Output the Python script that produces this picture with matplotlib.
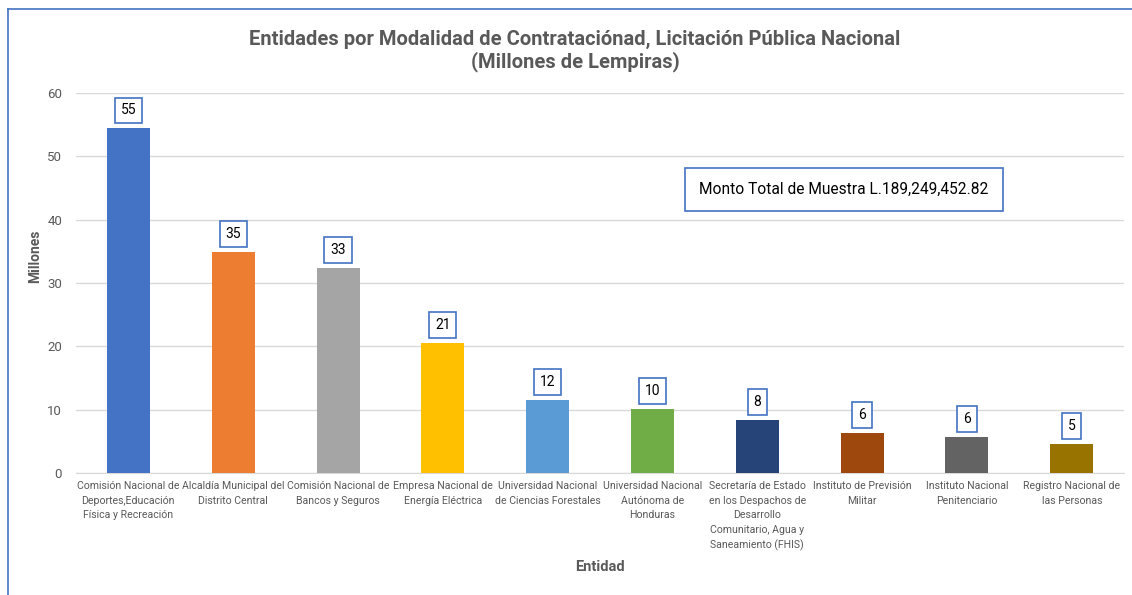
import matplotlib.pyplot as plt
from matplotlib.lines import Line2D
import numpy as np

entidades = [
    "Comisión Nacional de\nDeportes,Educación\nFísica y Recreación",
    "Alcaldía Municipal del\nDistrito Central",
    "Comisión Nacional de\nBancos y Seguros",
    "Empresa Nacional de\nEnergía Eléctrica",
    "Universidad Nacional\nde Ciencias Forestales",
    "Universidad Nacional\nAutónoma de\nHonduras",
    "Secretaría de Estado\nen los Despachos de\nDesarrollo\nComunitario, Agua y\nSaneamiento (FHIS)",
    "Instituto de Previsión\nMilitar",
    "Instituto Nacional\nPenitenciario",
    "Registro Nacional de\nlas Personas",
]
millones = [54.4, 34.9, 32.4, 20.5, 11.5, 10.1, 8.4, 6.3, 5.7, 4.6]
etiquetas = ["55", "35", "33", "21", "12", "10", "8", "6", "6", "5"]
colores = ["#4472C4", "#ED7D31", "#A5A5A5", "#FFC000", "#5B9BD5",
           "#70AD47", "#264478", "#9E480E", "#636363", "#997300"]

gris = "#595959"
azul = "#4472C4"
fuente = ["Roboto", "DejaVu Sans"]

fig = plt.figure(figsize=(11.32, 5.95), dpi=100)
ax = fig.add_axes([0.0671, 0.205, 0.926, 0.6387])

x = np.arange(len(entidades))
barras = ax.bar(x, millones, width=0.41, color=colores, zorder=3)

for b, t in zip(barras, etiquetas):
    ax.annotate(t, (b.get_x() + b.get_width() / 2, b.get_height()),
                xytext=(0, 8), textcoords="offset points",
                ha="center", va="bottom", fontsize=10, color="black", family=fuente,
                bbox=dict(boxstyle="square,pad=0.42", fc="white", ec=azul, lw=1.2))

ax.set_xlim(-0.5, len(entidades) - 0.5)
ax.set_ylim(0, 60)
ax.set_yticks(range(0, 61, 10))
ax.grid(axis="y", color="#D9D9D9", lw=1, zorder=0)
for s in ["top", "right", "left"]:
    ax.spines[s].set_visible(False)
ax.spines["bottom"].set_color("#D9D9D9")
ax.tick_params(length=0, colors=gris, labelsize=9.5)
ax.tick_params(axis="y", pad=10)
ax.tick_params(axis="x", pad=6)
ax.set_xticks(x)
ax.set_xticklabels(entidades, fontsize=7.6, color=gris, family=fuente, linespacing=1.55)
for lbl in ax.get_yticklabels():
    lbl.set_family(fuente)

ax.set_ylabel("Millones", fontsize=10, fontweight="bold", color=gris, family=fuente)
ax.yaxis.set_label_coords(-0.032, 0.57)
ax.set_xlabel("Entidad", fontsize=10.5, fontweight="bold", color=gris, family=fuente)
ax.xaxis.set_label_coords(0.5, -0.23)

fig.text(0.508, 0.915, "Entidades por Modalidad de Contrataciónad, Licitación Pública Nacional\n(Millones de Lempiras)",
         ha="center", va="center", fontsize=14.5, fontweight="bold", color=gris,
         family=fuente, linespacing=1.15)

fig.text(844 / 1132, 1 - 189 / 595, "Monto Total de Muestra L.189,249,452.82",
         ha="center", va="center", fontsize=11.2, color="black", family=fuente,
         bbox=dict(boxstyle="square,pad=0.9", fc="white", ec=azul, lw=1.2))

# borde del gráfico
fig.add_artist(Line2D([8 / 1132, 8 / 1132], [0, 1 - 9 / 595], color=azul, lw=1.2))
fig.add_artist(Line2D([8 / 1132, 1], [1 - 9 / 595, 1 - 9 / 595], color=azul, lw=1.2))

fig.savefig("out.png", dpi=100)
